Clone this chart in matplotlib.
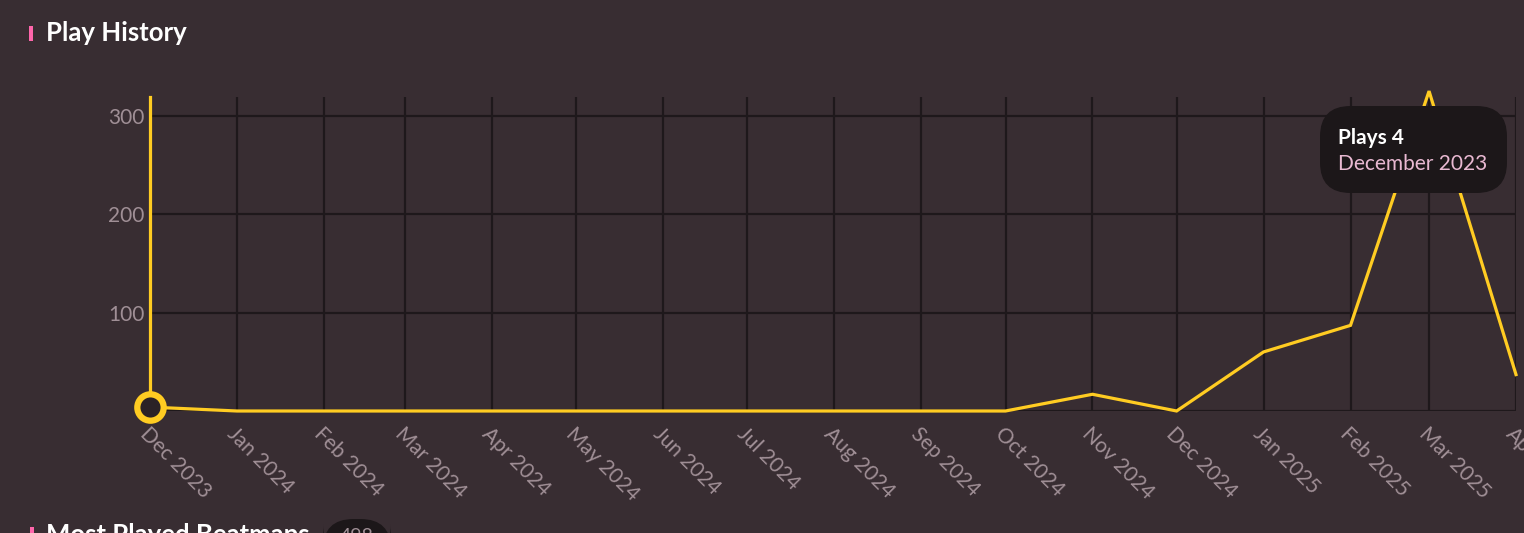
import pandas as pd
import matplotlib.pyplot as plt
from matplotlib.patches import FancyBboxPatch, Rectangle

# 월별 플레이 수
months = ['2023-12', '2024-01', '2024-02', '2024-03', '2024-04', '2024-05',
          '2024-06', '2024-07', '2024-08', '2024-09', '2024-10', '2024-11',
          '2024-12', '2025-01', '2025-02', '2025-03', '2025-04']
plays = [4, 0, 0, 0, 0, 0, 0, 0, 0, 0, 0, 17, 0, 60, 87, 325, 37]
tick_labels = ['Dec 2023', 'Jan 2024', 'Feb 2024', 'Mar 2024', 'Apr 2024', 'May 2024',
               'Jun 2024', 'Jul 2024', 'Aug 2024', 'Sep 2024', 'Oct 2024', 'Nov 2024',
               'Dec 2024', 'Jan 2025', 'Feb 2025', 'Mar 2025', 'Ap']
y_ticks = [0, 100, 200, 300]
y_labels = ['', '100', '200', '300']

dates = pd.to_datetime(months)

bg = '#382d32'
grid_c = '#1e181b'
yellow = '#ffcc22'
pink = '#ff66ab'
label_c = '#a08f96'

plt.rcParams['font.family'] = ['Lato', 'DejaVu Sans']

fig = plt.figure(figsize=(15.24, 5.33), dpi=100)
fig.patch.set_facecolor(bg)
ax = fig.add_axes([150 / 1524, 1 - 411 / 533, 1366 / 1524, 314 / 533])
ax.set_facecolor(bg)

ax.set_xlim(dates[0], dates[-1])
ax.set_ylim(0, 319)
ax.set_xticks(dates)
ax.set_xticklabels(tick_labels, rotation=-45, ha='left', va='top',
                   rotation_mode='anchor', color=label_c, fontsize=15)
ax.set_yticks(y_ticks)
ax.set_yticklabels(y_labels, color=label_c, fontsize=15)
ax.tick_params(length=0, pad=4)
ax.tick_params(axis='x', pad=9)
ax.grid(True, color=grid_c, linewidth=1.6)
for s in ax.spines.values():
    s.set_visible(False)

# 라인
ax.plot(dates, plays, color=yellow, linewidth=2.3, clip_on=False, zorder=3,
        solid_joinstyle='miter')
# 커서 라인 + 마커
ax.axvline(dates[0], color=yellow, linewidth=2.3, zorder=4, clip_on=False)
ax.plot([dates[0]], [plays[0]], 'o', markersize=19, markerfacecolor='#2b2226',
        markeredgecolor=yellow, markeredgewidth=4.5, zorder=5, clip_on=False)

# 툴팁
tip = FancyBboxPatch((1320 / 1524, 1 - 193 / 533), 187 / 1524, 87 / 533,
                     boxstyle='round,pad=0,rounding_size=0.02',
                     transform=fig.transFigure, facecolor='#1c1719',
                     edgecolor='none', zorder=10, mutation_aspect=1524 / 533)
fig.patches.append(tip)
fig.text(1338 / 1524, 1 - 138 / 533, 'Plays 4', color='white', fontsize=15,
         fontweight='bold', va='center', ha='left', zorder=11)
fig.text(1338 / 1524, 1 - 164 / 533, 'December 2023', color='#e9b9d2', fontsize=15,
         va='center', ha='left', zorder=11)

# 제목
fig.patches.append(Rectangle((29 / 1524, 1 - 41 / 533), 4 / 1524, 15 / 533,
                             transform=fig.transFigure, facecolor=pink, edgecolor='none'))
fig.text(46 / 1524, 1 - 33 / 533, 'Play History', color='white', fontsize=18.5,
         fontweight='bold', va='center', ha='left')

# 다음 섹션 (잘림)
fig.patches.append(Rectangle((30 / 1524, 1 - 545 / 533), 4 / 1524, 18 / 533,
                             transform=fig.transFigure, facecolor=pink, edgecolor='none'))
fig.text(46 / 1524, 1 - 535 / 533, 'Most Played Beatmaps', color='white', fontsize=18.5,
         fontweight='bold', va='center', ha='left')
pill = FancyBboxPatch((323 / 1524, 1 - 555 / 533), 68 / 1524, 36 / 533,
                      boxstyle='round,pad=0,rounding_size=0.02',
                      transform=fig.transFigure, facecolor='#1c1719',
                      edgecolor='none', mutation_aspect=1524 / 533)
fig.patches.append(pill)
fig.text(357 / 1524, 1 - 536 / 533, '498', color=label_c, fontsize=14,
         va='center', ha='center')

fig.savefig('out.png', dpi=100, facecolor=bg)
